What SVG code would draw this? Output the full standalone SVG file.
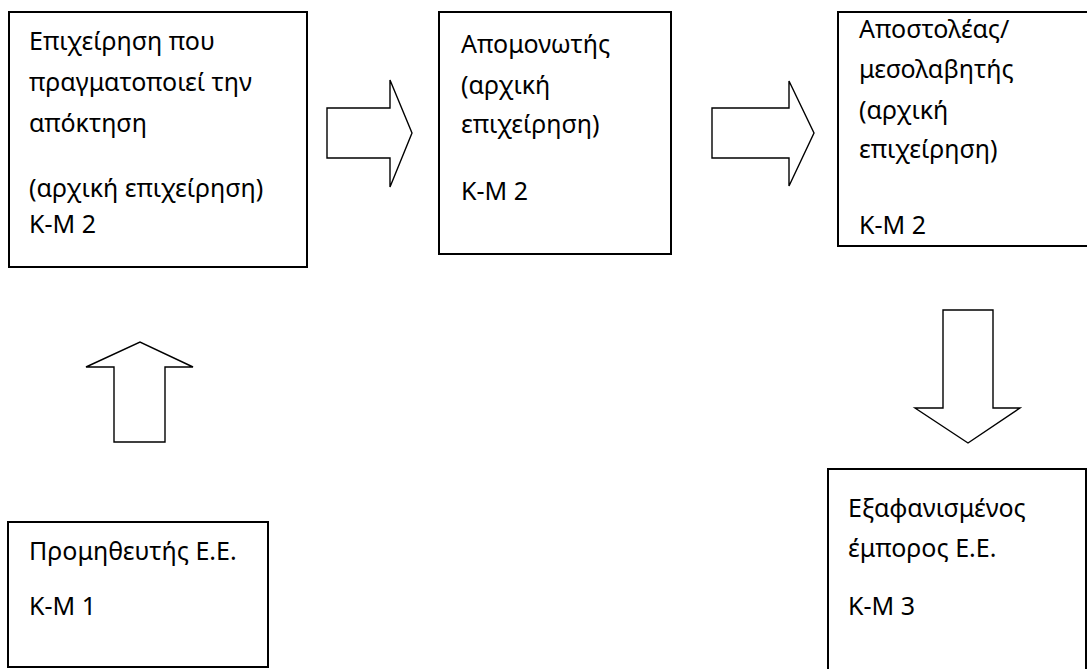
<svg xmlns="http://www.w3.org/2000/svg" width="1087" height="669" viewBox="0 0 1087 669">
<style>
.box{fill:#fff;stroke:#000;stroke-width:2}
.arr{fill:#fff;stroke:#000;stroke-width:1.4;stroke-linejoin:miter}
text{font-family:"Noto Sans","Open Sans","DejaVu Sans",sans-serif;font-size:25px;fill:#000}
</style>
<rect width="1087" height="669" fill="#fff"/>
<g id="n1">
<rect class="box" x="9" y="12" width="298" height="255"/>
<text x="29" y="50">Επιχείρηση που</text>
<text x="29" y="91">πραγματοποιεί την</text>
<text x="29" y="132">απόκτηση</text>
<text x="29" y="197">(αρχική επιχείρηση)</text>
<text x="29" y="233">Κ-Μ 2</text>
</g>
<g id="n2">
<rect class="box" x="439" y="12" width="232" height="242"/>
<text x="461" y="53">Απομονωτής</text>
<text x="461" y="94">(αρχική</text>
<text x="461" y="133">επιχείρηση)</text>
<text x="461" y="200">Κ-Μ 2</text>
</g>
<g id="n3">
<rect class="box" x="838" y="12" width="260" height="234"/>
<text x="859" y="38">Αποστολέας/</text>
<text x="859" y="78">μεσολαβητής</text>
<text x="859" y="119">(αρχική</text>
<text x="859" y="158">επιχείρηση)</text>
<text x="859" y="234">Κ-Μ 2</text>
</g>
<g id="n4">
<rect class="box" x="8" y="522" width="260" height="145"/>
<text x="29" y="560">Προμηθευτής Ε.Ε.</text>
<text x="29" y="615">Κ-Μ 1</text>
</g>
<g id="n5">
<rect class="box" x="828" y="469" width="258" height="220"/>
<text x="848" y="517">Εξαφανισμένος</text>
<text x="848" y="557">έμπορος Ε.Ε.</text>
<text x="848" y="615">Κ-Μ 3</text>
</g>
<g id="connectors">
<polygon class="arr" points="327,108 390,108 390,80 412,133 390,187 390,158 327,158"/>
<polygon class="arr" points="712,108 789,108 789,81 814,133 789,186 789,158 712,158"/>
<polygon class="arr" points="114,442 114,367 86,367 140,342 193,367 165,367 165,442"/>
<polygon class="arr" points="943,310 993,310 993,408 1020,408 968,443 915,408 943,408"/>
</g>
</svg>
